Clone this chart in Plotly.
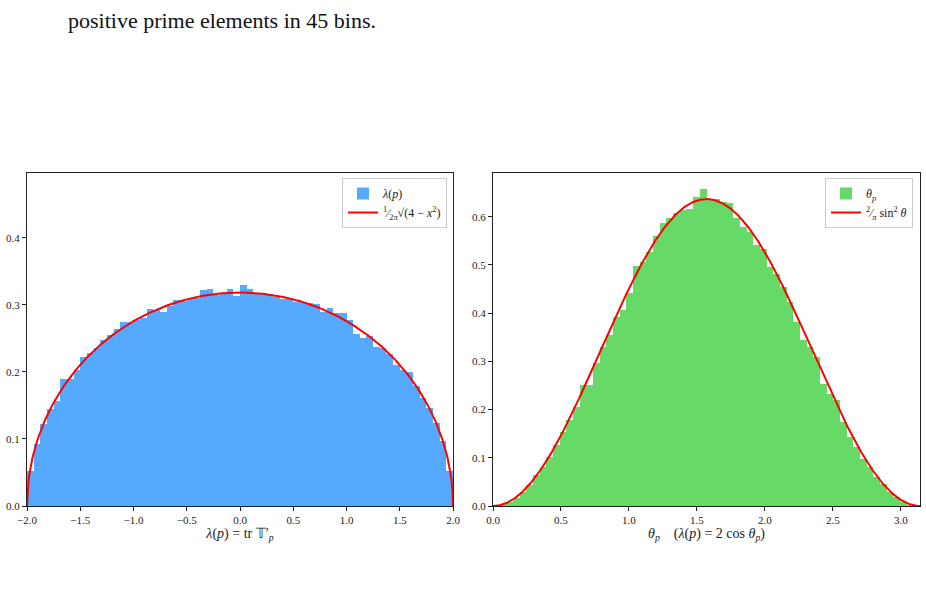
import numpy as np
import plotly.graph_objects as go

# ---------------- data ----------------
lam_edges_lo, lam_edges_hi, n_bins = -2.0, 2.0, 64
lam_heights = [
    0.052, 0.092, 0.122, 0.144, 0.156, 0.189, 0.190, 0.203,
    0.222, 0.228, 0.235, 0.247, 0.255, 0.264, 0.274, 0.274,
    0.278, 0.280, 0.294, 0.292, 0.290, 0.299, 0.307, 0.305,
    0.309, 0.310, 0.322, 0.323, 0.314, 0.316, 0.324, 0.313,
    0.329, 0.323, 0.318, 0.317, 0.316, 0.311, 0.309, 0.309,
    0.304, 0.304, 0.303, 0.301, 0.290, 0.295, 0.288, 0.288,
    0.278, 0.256, 0.251, 0.253, 0.237, 0.235, 0.226, 0.211,
    0.203, 0.200, 0.179, 0.161, 0.146, 0.124, 0.097, 0.052,
]
theta_heights = [
    0.0005, 0.003, 0.009, 0.017, 0.029, 0.043, 0.064, 0.081,
    0.102, 0.127, 0.154, 0.178, 0.206, 0.251, 0.251, 0.296,
    0.330, 0.354, 0.392, 0.406, 0.441, 0.498, 0.507, 0.527,
    0.560, 0.586, 0.597, 0.607, 0.615, 0.617, 0.641, 0.657,
    0.636, 0.636, 0.631, 0.628, 0.597, 0.579, 0.569, 0.541,
    0.534, 0.496, 0.482, 0.455, 0.423, 0.382, 0.344, 0.330,
    0.309, 0.254, 0.233, 0.219, 0.174, 0.143, 0.122, 0.098,
    0.081, 0.060, 0.046, 0.029, 0.019, 0.0085, 0.0015, 0.0005,
]
lam_ticks = [-2.0, -1.5, -1.0, -0.5, 0.0, 0.5, 1.0, 1.5, 2.0]
lam_yticks = [0.0, 0.1, 0.2, 0.3, 0.4]
theta_ticks = [0.0, 0.5, 1.0, 1.5, 2.0, 2.5, 3.0]
theta_yticks = [0.0, 0.1, 0.2, 0.3, 0.4, 0.5, 0.6]

# bin geometry
lam_w = (lam_edges_hi - lam_edges_lo) / n_bins
lam_centers = lam_edges_lo + lam_w * (np.arange(n_bins) + 0.5)
th_w = np.pi / n_bins
th_centers = th_w * (np.arange(n_bins) + 0.5)

# theoretical densities
xs = np.linspace(-2, 2, 801)
st_lam = np.sqrt(np.clip(4 - xs**2, 0, None)) / (2 * np.pi)
ts = np.linspace(0, np.pi, 801)
st_th = 2 / np.pi * np.sin(ts) ** 2

BLUE = "#55aaff"
GREEN = "#66d966"
RED = "#ff0000"
FONT = "Liberation Serif"

fig = go.Figure()

fig.add_trace(go.Bar(x=lam_centers, y=lam_heights, width=lam_w,
                     marker=dict(color=BLUE, line=dict(width=0)),
                     name="<i>λ</i>(<i>p</i>)", xaxis="x", yaxis="y", legend="legend"))
fig.add_trace(go.Scatter(x=xs, y=st_lam, mode="lines", line=dict(color=RED, width=2),
                         name="<sup>1</sup>⁄<sub>2<i>π</i></sub>√(4 − <i>x</i><sup>2</sup>)",
                         xaxis="x", yaxis="y", legend="legend"))
fig.add_trace(go.Bar(x=th_centers, y=theta_heights, width=th_w,
                     marker=dict(color=GREEN, line=dict(width=0)),
                     name="<i>θ<sub>p</sub></i>", xaxis="x2", yaxis="y2", legend="legend2"))
fig.add_trace(go.Scatter(x=ts, y=st_th, mode="lines", line=dict(color=RED, width=2),
                         name="<sup>2</sup>⁄<sub><i>π</i></sub> sin<sup>2</sup> <i>θ</i>",
                         xaxis="x2", yaxis="y2", legend="legend2"))

W, H = 926, 598
ax_common = dict(showgrid=False, zeroline=False, showline=True, linecolor="#222",
                 linewidth=1, mirror=True, ticks="outside", ticklen=4, tickwidth=1,
                 tickcolor="#222", tickfont=dict(family=FONT, size=11, color="#222"),
                 tickformat=".1f", automargin=False)

ydom = [1 - 506 / H, 1 - 173 / H]
fig.update_layout(
    width=W, height=H, margin=dict(l=0, r=0, t=0, b=0, autoexpand=False),
    paper_bgcolor="white", plot_bgcolor="white",
    bargap=0, barmode="overlay",
    font=dict(family=FONT, color="#222"),
    xaxis=dict(domain=[27 / W, 453 / W], range=[-2, 2], tickvals=lam_ticks,
               title=dict(text="<i>λ</i>(<i>p</i>) = tr 𝕋′<sub><i>p</i></sub>",
                          font=dict(family=FONT, size=14), standoff=2),
               anchor="y", **ax_common),
    yaxis=dict(domain=ydom, range=[0, 0.4966], tickvals=lam_yticks, anchor="x", **ax_common),
    xaxis2=dict(domain=[493 / W, 920 / W], range=[0, np.pi], tickvals=theta_ticks,
                title=dict(text="<i>θ<sub>p</sub></i>    (<i>λ</i>(<i>p</i>) = 2 cos <i>θ<sub>p</sub></i>)",
                           font=dict(family=FONT, size=14), standoff=2),
                anchor="y2", **ax_common),
    yaxis2=dict(domain=ydom, range=[0, 0.6907], tickvals=theta_yticks, anchor="x2", **ax_common),
    legend=dict(x=447 / W, y=1 - 178 / H, xanchor="right", yanchor="top",
                bgcolor="rgba(255,255,255,0.8)", bordercolor="#ccc", borderwidth=1,
                font=dict(family=FONT, size=12), tracegroupgap=0, itemwidth=30),
    legend2=dict(x=913 / W, y=1 - 178 / H, xanchor="right", yanchor="top",
                 bgcolor="rgba(255,255,255,0.8)", bordercolor="#ccc", borderwidth=1,
                 font=dict(family=FONT, size=12), tracegroupgap=0, itemwidth=30),
    showlegend=True,
)

fig.add_annotation(text="positive prime elements in 45 bins.", xref="paper", yref="paper",
                   x=66 / W, y=1 - 21 / H, xanchor="left", yanchor="middle", showarrow=False,
                   font=dict(family=FONT, size=22, color="#111"))

fig.write_html("out.html")
